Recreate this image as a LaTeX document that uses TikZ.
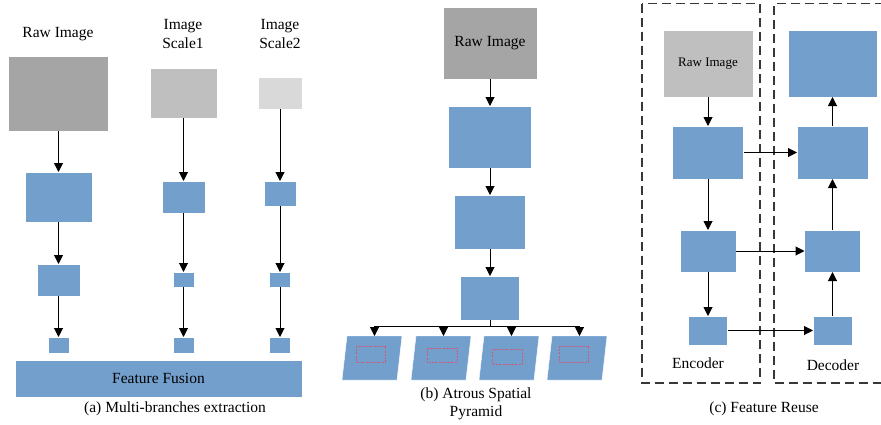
\documentclass[tikz,border=0pt]{standalone}
\usepackage{fontspec}
\setmainfont{Liberation Serif}
\newfontfamily\tms{Liberation Serif}
\usetikzlibrary{arrows.meta}
\definecolor{blu}{HTML}{739FCD}
\definecolor{g1}{HTML}{A5A5A5}
\definecolor{g2}{HTML}{BFBFBF}
\definecolor{g3}{HTML}{D9D9D9}
\definecolor{redd}{HTML}{D05A7A}
\definecolor{dashc}{HTML}{383838}
\begin{document}
\begin{tikzpicture}[x=1pt,y=-1pt,
  blk/.style={fill=blu,draw=white,line width=0.4pt,inner sep=0pt,outer sep=0pt},
  gbox/.style={draw=white,line width=0.4pt,inner sep=0pt,outer sep=0pt},
  arr/.style={line width=1pt,-{Triangle[width=9pt,length=9pt]}},
  lbl/.style={font=\tms\fontsize{15.5}{18.5}\selectfont,align=center,inner sep=0pt},
  sz/.style 2 args={minimum width=#1pt,minimum height=#2pt},
  dbox/.style={draw=dashc,line width=1.3pt,dash pattern=on 9pt off 5pt}]
\useasboundingbox (0,0) rectangle (881,424);
% ---------- (a)
\node[gbox,fill=g1,sz={100}{75}] (rawA) at (58.5,93.5) {};
\node[blk,sz={67}{50}] (a1) at (58.5,197) {};
\node[blk,sz={43}{32}] (a2) at (58.5,280) {};
\node[blk,sz={21}{16}] (a3) at (58.5,345) {};
\node[gbox,fill=g2,sz={67}{50}] (s1) at (183.5,93) {};
\node[blk,sz={43}{32}] (s1a) at (183.5,197) {};
\node[blk,sz={21}{15}] (s1b) at (183.5,279.5) {};
\node[blk,sz={21}{16}] (s1c) at (183.5,345) {};
\node[gbox,fill=g3,sz={44}{32}] (s2) at (280,93) {};
\node[blk,sz={32}{25}] (s2a) at (280,193.5) {};
\node[blk,sz={21}{15}] (s2b) at (280,279.5) {};
\node[blk,sz={21}{16}] (s2c) at (280,345) {};
\node[blk,sz={287}{37}] (fus) at (158.5,378.5) {};
\node[lbl] (fusl) at (fus.center) {Feature Fusion};
\node[lbl] (tA) at (58,34) {Raw Image};
\node[lbl] (tS1) at (183,34) {Image\\Scale1};
\node[lbl] (tS2) at (280,34) {Image\\Scale2};
\node[lbl] (capA) at (175,409) {(a) Multi-branches extraction};
\draw[arr] (rawA) -- (a1);
\draw[arr] (a1) -- (a2);
\draw[arr] (a2) -- (a3);
\draw[arr] (s1) -- (s1a);
\draw[arr] (s1a) -- (s1b);
\draw[arr] (s1b) -- (s1c);
\draw[arr] (s2) -- (s2a);
\draw[arr] (s2a) -- (s2b);
\draw[arr] (s2b) -- (s2c);
% ---------- (b)
\node[gbox,fill=g1,sz={94}{72},lbl] (rawB) at (490,43) {Raw Image};
\node[blk,sz={83}{62}] (b1) at (490,137) {};
\node[blk,sz={71}{54}] (b2) at (490,222) {};
\node[blk,sz={59}{44}] (b3) at (490,298) {};
\draw[arr] (rawB) -- (b1);
\draw[arr] (b1) -- (b2);
\draw[arr] (b2) -- (b3);
\coordinate (br) at (490,326);
\foreach \x [count=\i] in {347,416,484,552}{
  \fill[blu,draw=white,line width=0.4pt] (\x,336) -- ++(55,0) -- ++(-5,44) -- ++(-55,0) -- cycle;
  \coordinate (p\i) at (\x+27.5,336);
  \coordinate (h\i) at (\x+27.5,326);
}
\draw[line width=1pt] (br) -- (b3.south);
\draw[line width=1pt] (h1) -- (h4);
\foreach \i in {1,...,4}{\draw[arr] (h\i) -- (p\i);}
\draw[redd,line width=0.5pt,dash pattern=on 2pt off 1.2pt] (356,346) rectangle (385,362);
\draw[redd,line width=0.5pt,dash pattern=on 2pt off 1.2pt] (427,348) rectangle (457,362);
\draw[redd,line width=0.5pt,dash pattern=on 2pt off 1.2pt] (492,349) rectangle (522,364);
\draw[redd,line width=0.5pt,dash pattern=on 2pt off 1.2pt] (559,346) rectangle (588,362);
\node[lbl] (capB) at (476,404) {(b) Atrous Spatial\\Pyramid};
% ---------- (c)
\draw[dbox] (642,3.5) rectangle (760,383);
\draw[dbox] (884,3.5) -- (774,3.5) -- (774,383) -- (884,383);
\node[gbox,fill=g2,sz={90}{67},font=\tms\fontsize{13}{15}\selectfont] (rawC) at (708,63.5) {Raw Image};
\node[blk,sz={71}{53}] (e1) at (708,152.5) {};
\node[blk,sz={56}{42}] (e2) at (708,251) {};
\node[blk,sz={39}{29}] (e3) at (708,330.5) {};
\node[blk,sz={89}{67}] (d0) at (832.5,63.5) {};
\node[blk,sz={71}{53}] (d1) at (832.5,152.5) {};
\node[blk,sz={56}{42}] (d2) at (832.5,251) {};
\node[blk,sz={39}{29}] (d3) at (832.5,330.5) {};
\draw[arr] (rawC) -- (e1);
\draw[arr] (e1) -- (e2);
\draw[arr] (e2) -- (e3);
\draw[arr] (d3) -- (d2);
\draw[arr] (d2) -- (d1);
\draw[arr] (d1) -- (d0);
\draw[arr] (e1) -- (d1);
\draw[arr] (e2) -- (d2);
\draw[arr] (e3) -- (d3);
\node[lbl] (enc) at (698,363) {Encoder};
\node[lbl] (dec) at (833,365) {Decoder};
\node[lbl] (capC) at (764,409) {(c) Feature Reuse};
\end{tikzpicture}
\end{document}
